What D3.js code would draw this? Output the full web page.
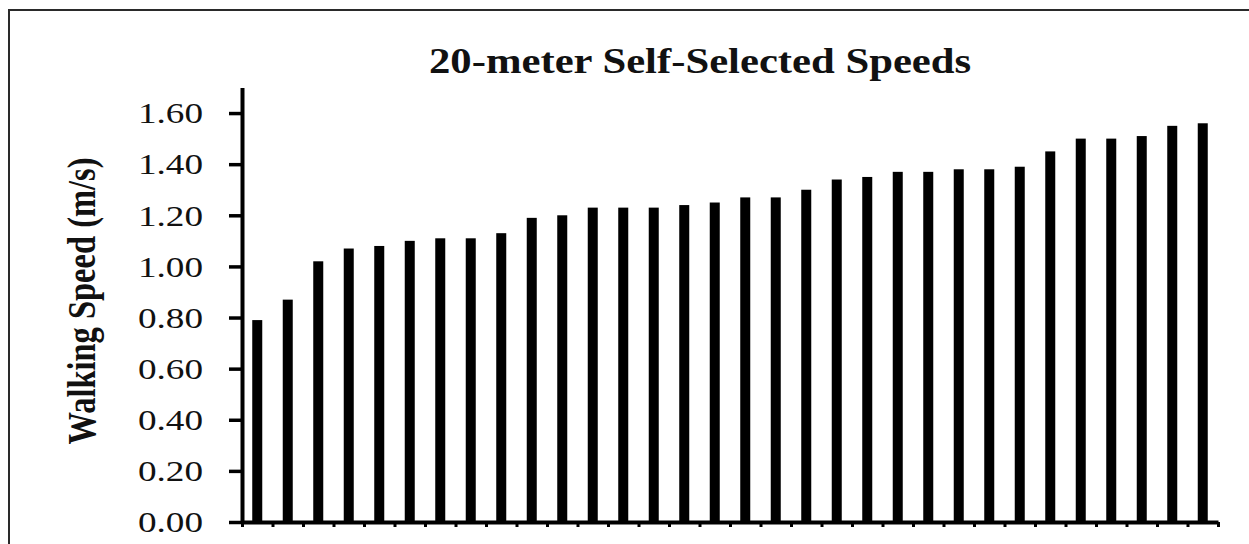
<!DOCTYPE html>
<html>
<head>
<meta charset="utf-8">
<script src="https://cdn.jsdelivr.net/npm/d3@7"></script>
<style>
  html, body { margin: 0; padding: 0; background: #fff; }
  svg { display: block; }
</style>
</head>
<body>
<svg id="chart" width="1249" height="544"></svg>
<script>
// ---- data ----
const titleText = "20-meter Self-Selected Speeds";
const yLabelText = "Walking Speed (m/s)";
const participants = d3.range(1, 33).map(String);
const speeds = [0.79, 0.87, 1.02, 1.07, 1.08, 1.10, 1.11, 1.11, 1.13, 1.19, 1.20, 1.23,
                1.23, 1.23, 1.24, 1.25, 1.27, 1.27, 1.30, 1.34, 1.35, 1.37, 1.37, 1.38,
                1.38, 1.39, 1.45, 1.50, 1.50, 1.51, 1.55, 1.56];
const yTickValues = [0, 0.2, 0.4, 0.6, 0.8, 1.0, 1.2, 1.4, 1.6];

// ---- layout ----
const W = 1249, H = 544;
const plotLeft = 242, plotRight = 1218, plotBottom = 522, plotTop = 87.5;
const stretch = 1.22; // horizontal stretch of the original rendering
const serif = "'Liberation Serif', 'Times New Roman', serif";

const svg = d3.select("#chart");
svg.append("rect").attr("width", W).attr("height", H).attr("fill", "#fff");

// outer frame (left and top visible)
svg.append("path")
  .attr("d", `M9,${H + 5} L9,10 L${W + 5},10`)
  .attr("fill", "none").attr("stroke", "#2a2a2a").attr("stroke-width", 2);

// scales
const x = d3.scaleBand().domain(participants).range([plotLeft, plotRight])
  .paddingInner(0.672).paddingOuter(0.336);
const xEdge = d3.scaleLinear().domain([0, participants.length]).range([plotLeft, plotRight]);
const y = d3.scaleLinear().domain([0, 1.7]).range([plotBottom, plotTop]);

// bars
svg.append("g").selectAll("rect").data(speeds).join("rect")
  .attr("x", (d, i) => x(participants[i]))
  .attr("width", x.bandwidth())
  .attr("y", d => y(d))
  .attr("height", d => y(0) - y(d))
  .attr("fill", "#000");

// y axis
const yAxis = svg.append("g").attr("transform", `translate(${plotLeft},0)`)
  .call(d3.axisLeft(y).tickValues(yTickValues).tickSize(13).tickSizeOuter(0)
    .tickFormat(d3.format(".2f")));
yAxis.select(".domain").attr("stroke", "#000").attr("stroke-width", 4);
yAxis.selectAll(".tick line").attr("stroke", "#000").attr("stroke-width", 3.5);
yAxis.selectAll(".tick text")
  .attr("x", null)
  .attr("transform", `translate(${203 - plotLeft},0) scale(${stretch},1)`)
  .attr("dy", "0.32em")
  .attr("text-anchor", "end")
  .attr("fill", "#111")
  .style("font-family", serif)
  .style("font-size", "30.5px");

// x axis (ticks at category boundaries, no labels)
const xAxis = svg.append("g").attr("transform", `translate(0,${plotBottom})`)
  .call(d3.axisBottom(xEdge).tickValues(d3.range(0, participants.length + 1))
    .tickSize(5).tickSizeOuter(0).tickFormat(""));
xAxis.select(".domain").attr("stroke", "#000").attr("stroke-width", 4);
xAxis.selectAll(".tick line").attr("stroke", "#000").attr("stroke-width", 3);

// title
svg.append("text")
  .attr("transform", `translate(429,73) scale(${stretch},1)`)
  .attr("text-anchor", "start")
  .style("font-family", serif).style("font-weight", "bold").style("font-size", "35px")
  .attr("fill", "#111")
  .text(titleText);

// y label
svg.append("text")
  .attr("transform", `translate(95,301) scale(${stretch},1) rotate(-90)`)
  .attr("text-anchor", "middle")
  .style("font-family", serif).style("font-weight", "bold").style("font-size", "32.5px")
  .attr("fill", "#111")
  .text(yLabelText);
</script>
</body>
</html>
